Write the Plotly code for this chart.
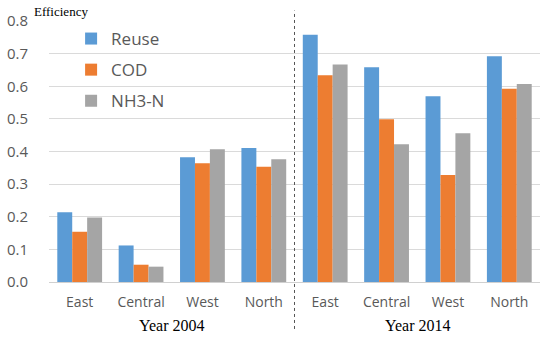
import plotly.graph_objects as go

categories = ["East", "Central", "West", "North", "East", "Central", "West", "North"]
years = ["Year 2004", "Year 2014"]
cat_ids = [f"{c} {y[-4:]}" for y in years for c in categories[:4]]

reuse = [0.214, 0.112, 0.382, 0.411, 0.758, 0.658, 0.569, 0.692]
cod = [0.154, 0.053, 0.364, 0.353, 0.634, 0.499, 0.328, 0.592]
nh3n = [0.198, 0.047, 0.407, 0.376, 0.667, 0.422, 0.456, 0.607]

y_ticks = [0.0, 0.1, 0.2, 0.3, 0.4, 0.5, 0.6, 0.7, 0.8]

series = [("Reuse", reuse, "#5B9BD5"), ("COD", cod, "#ED7D31"), ("NH3-N", nh3n, "#A5A5A5")]

fig = go.Figure()
for name, vals, color in series:
    fig.add_trace(go.Bar(x=cat_ids, y=vals, name=name, marker=dict(color=color, line=dict(width=0)),
                         legendgroup=name))

fig.update_layout(
    width=550, height=338,
    margin=dict(l=49, r=10, t=21, b=56, autoexpand=False),
    paper_bgcolor="white", plot_bgcolor="white",
    barmode="group", bargap=0.27, bargroupgap=0,
    font=dict(family="Open Sans", color="#595959"),
    legend=dict(x=0.045, y=1.0, xanchor="left", yanchor="top", bgcolor="rgba(0,0,0,0)",
                font=dict(size=17, color="#595959"), traceorder="grouped", tracegroupgap=6),
    xaxis=dict(tickmode="array", tickvals=cat_ids, ticktext=categories, tickfont=dict(size=14),
               showgrid=False, showline=False, ticks="", ticklabelstandoff=10, automargin=False),
    yaxis=dict(range=[0, 0.8], tickvals=y_ticks, tickformat=".1f", tickfont=dict(size=15),
               showgrid=True, gridcolor="#DADADA", gridwidth=1, zeroline=True, zerolinecolor="#D0D0D0",
               zerolinewidth=1, showline=False, ticks="", ticklabelstandoff=20, automargin=False),
)

fig.add_shape(type="line", xref="x", yref="paper", x0=3.5, x1=3.5, y0=-0.18, y1=1.04,
              line=dict(color="#555555", width=1, dash="dot"))

fig.add_annotation(text="Year 2004", xref="x", yref="paper", x=1.5, y=0, yanchor="middle", yshift=-43,
                   showarrow=False, font=dict(family="Liberation Serif", size=16, color="black"))
fig.add_annotation(text="Year 2014", xref="x", yref="paper", x=5.5, y=0, yanchor="middle", yshift=-43,
                   showarrow=False, font=dict(family="Liberation Serif", size=16, color="black"))
fig.add_annotation(text="Efficiency", xref="paper", yref="paper", x=0, y=1, xanchor="left", xshift=-17,
                   yanchor="middle", yshift=10, showarrow=False,
                   font=dict(family="Liberation Serif", size=13, color="black"))

fig.write_html("out.html", config={"displayModeBar": False},
               post_script="document.body.style.margin='0';")
